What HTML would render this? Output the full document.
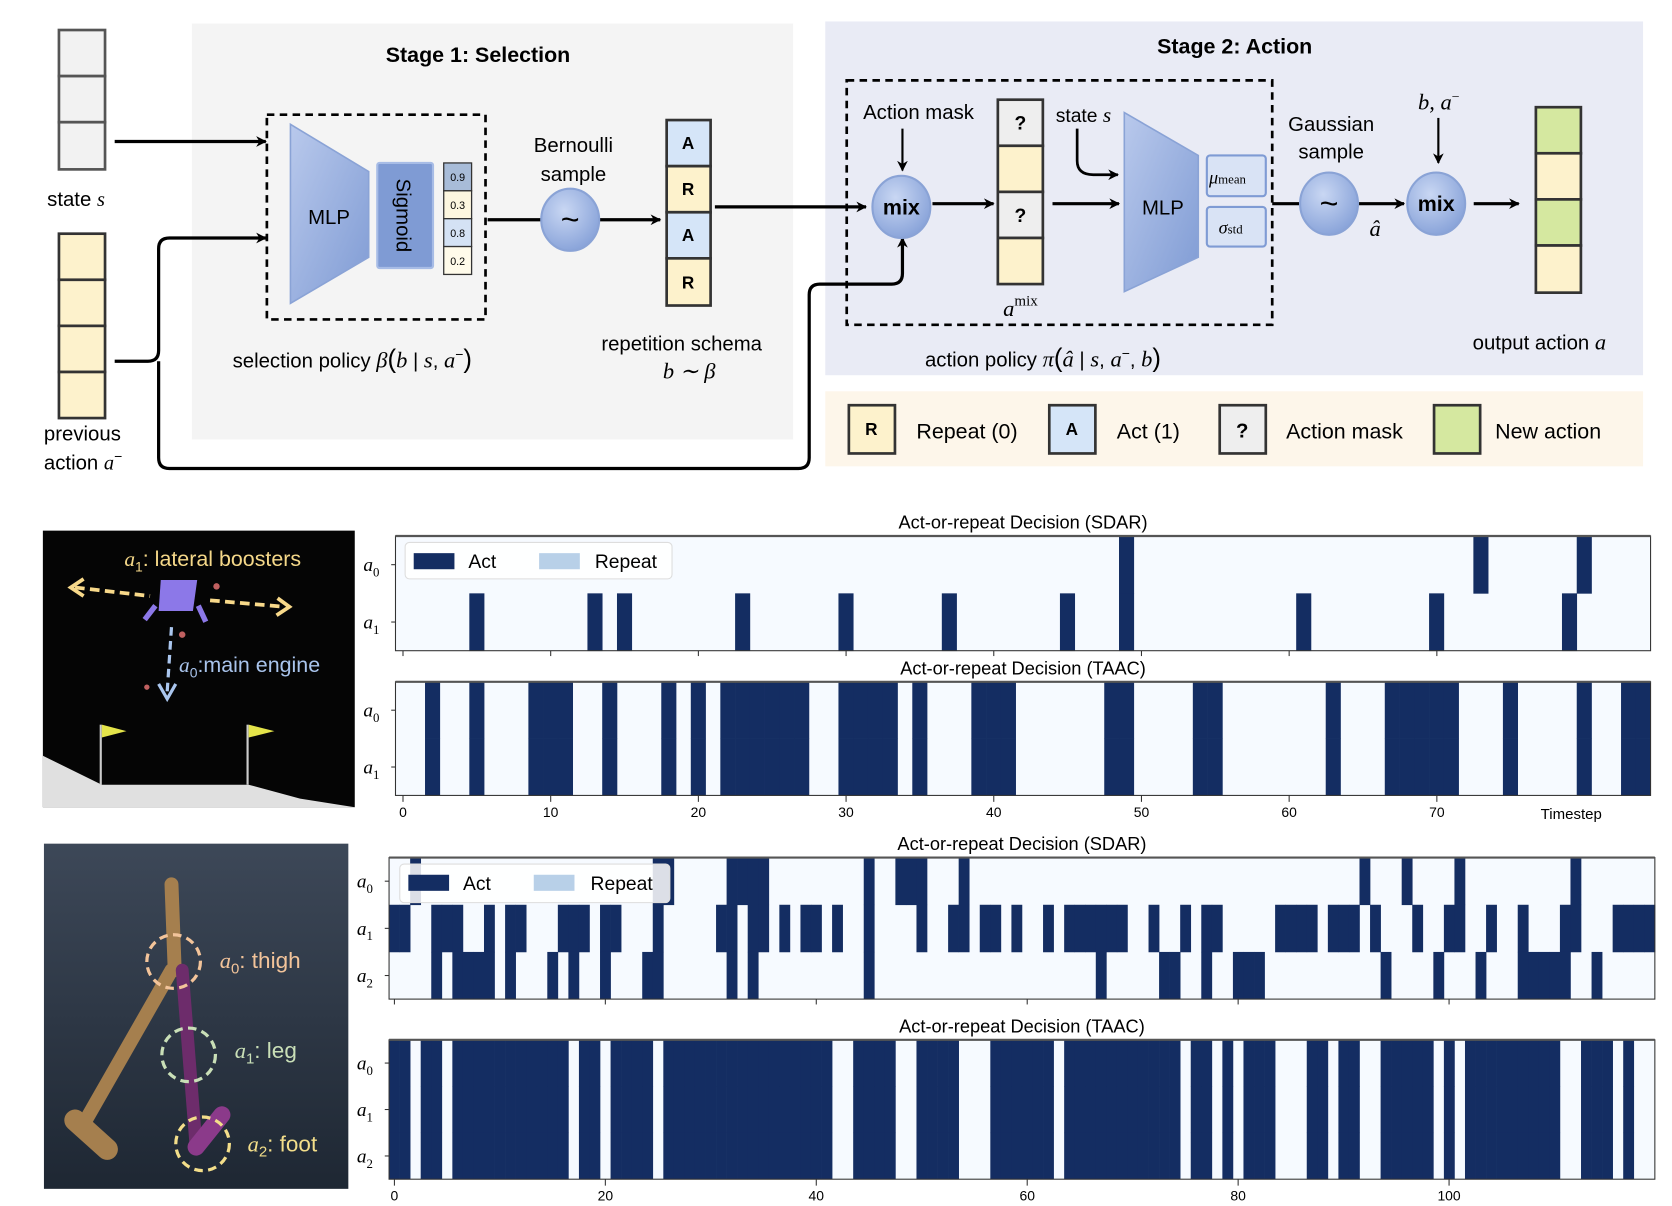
<!DOCTYPE html>
<html><head><meta charset="utf-8"><style>
html,body{margin:0;padding:0;background:#fff;}
svg{display:block;}
text{font-family:"Liberation Sans",sans-serif;}
.m{font-family:"Liberation Serif",serif;font-style:italic;}
</style></head><body>
<svg id="s" width="1672" height="1206" viewBox="0 0 1560 1125" preserveAspectRatio="none" xmlns="http://www.w3.org/2000/svg">
<defs>
<linearGradient id="mlp" x1="0" y1="0" x2="1" y2="1"><stop offset="0" stop-color="#b9c9ec"/><stop offset="1" stop-color="#7f9bd4"/></linearGradient>
<radialGradient id="cg" cx="0.4" cy="0.35" r="0.7"><stop offset="0" stop-color="#c9d7f3"/><stop offset="1" stop-color="#86a1d8"/></radialGradient>
<linearGradient id="hop" x1="0" y1="0" x2="0" y2="1"><stop offset="0" stop-color="#3d4858"/><stop offset="1" stop-color="#1e2733"/></linearGradient>
<marker id="ah" markerWidth="10" markerHeight="10" refX="9" refY="5" orient="auto" markerUnits="userSpaceOnUse"><path d="M0,0 L10,5 L0,10 L3,5 z" fill="#000"/></marker>
</defs>

<!-- Stage boxes -->
<rect x="179" y="22" width="561" height="388" fill="#f4f4f4"/>
<rect x="770" y="20" width="763" height="330" fill="#e9ebf5"/>
<rect x="770" y="365" width="763" height="70" fill="#fdf6ea"/>
<text x="446" y="58" font-size="20" font-weight="bold" text-anchor="middle">Stage 1: Selection</text>
<text x="1152" y="50" font-size="20" font-weight="bold" text-anchor="middle">Stage 2: Action</text>

<!-- state vector -->
<g stroke="#555" stroke-width="2.5" fill="#f2f2f2">
<rect x="55" y="28" width="43" height="43"/><rect x="55" y="71" width="43" height="43"/><rect x="55" y="114" width="43" height="44"/>
</g>
<text x="44" y="192" font-size="19">state <tspan class="m">s</tspan></text>
<g stroke="#333" stroke-width="2.5" fill="#fdf2cc">
<rect x="55" y="218" width="43" height="43"/><rect x="55" y="261" width="43" height="43"/><rect x="55" y="304" width="43" height="43"/><rect x="55" y="347" width="43" height="43"/>
</g>
<text x="41" y="411" font-size="19">previous</text>
<text x="41" y="438" font-size="19">action <tspan class="m">a</tspan><tspan font-size="13" dy="-8">−</tspan></text>

<!-- dashed box 1 -->
<rect x="249" y="107" width="204" height="191" fill="none" stroke="#000" stroke-width="2.5" stroke-dasharray="7,5"/>
<polygon points="271,116 344,160 344,240 271,283" fill="url(#mlp)" stroke="#8aa3d6" stroke-width="1.5"/>
<text x="307" y="209" font-size="19" text-anchor="middle">MLP</text>
<rect x="352" y="152" width="52" height="98" rx="2" fill="#7f9bd4" stroke="#a7bce6" stroke-width="2"/>
<text transform="translate(370,201) rotate(90)" font-size="19" text-anchor="middle">Sigmoid</text>
<g stroke="#333" stroke-width="1.2" font-size="10">
<rect x="414" y="152" width="26" height="26" fill="#a8bcd8"/><rect x="414" y="178" width="26" height="26" fill="#fdf7e0"/><rect x="414" y="204" width="26" height="26" fill="#d4e2f4"/><rect x="414" y="230" width="26" height="26" fill="#fffbea"/>
</g>
<g font-size="10" text-anchor="middle"><text x="427" y="169">0.9</text><text x="427" y="195">0.3</text><text x="427" y="221">0.8</text><text x="427" y="247">0.2</text></g>

<!-- arrows stage1 -->
<g stroke="#000" stroke-width="3" fill="none">
<line x1="107" y1="132" x2="248" y2="132" marker-end="url(#ah)"/>
<path d="M107,337 H138 Q148,337 148,327 V232 Q148,222 158,222 H248" marker-end="url(#ah)"/>
<path d="M148,337 V427 Q148,437 158,437 H745 Q755,437 755,427 V275 Q755,265 765,265 H832 Q842,265 842,255 V222" marker-end="url(#ah)"/>
<line x1="455" y1="205" x2="505" y2="205"/>
<line x1="559" y1="205" x2="616" y2="205" marker-end="url(#ah)"/>
<line x1="667" y1="193" x2="808" y2="193" marker-end="url(#ah)"/>
</g>
<ellipse cx="532" cy="205" rx="27" ry="29" fill="url(#cg)" stroke="#8aa3d6" stroke-width="2"/>
<text x="532" y="215" font-size="30" text-anchor="middle">~</text>
<text x="535" y="142" font-size="19" text-anchor="middle">Bernoulli</text>
<text x="535" y="169" font-size="19" text-anchor="middle">sample</text>

<!-- schema -->
<g stroke="#333" stroke-width="2.5">
<rect x="622" y="112" width="41" height="43" fill="#d5e5f8"/><rect x="622" y="155" width="41" height="43" fill="#fdf2cc"/><rect x="622" y="198" width="41" height="43" fill="#d5e5f8"/><rect x="622" y="241" width="41" height="44" fill="#fdf2cc"/>
</g>
<g font-size="16" font-weight="bold" text-anchor="middle"><text x="642" y="139">A</text><text x="642" y="182">R</text><text x="642" y="225">A</text><text x="642" y="269">R</text></g>
<text x="217" y="343" font-size="19">selection policy <tspan class="m" font-size="21">β</tspan><tspan font-size="24">(</tspan><tspan class="m" font-size="21">b</tspan> | <tspan class="m" font-size="21">s</tspan>, <tspan class="m" font-size="21">a</tspan><tspan font-size="13" dy="-8">−</tspan><tspan font-size="24" dy="8">)</tspan></text>
<text x="636" y="327" font-size="19" text-anchor="middle">repetition schema</text>
<text x="643" y="353" font-size="21" text-anchor="middle" class="m">b ∼ β</text>

<!-- Stage 2 -->
<rect x="790" y="75" width="397" height="228" fill="none" stroke="#000" stroke-width="2.5" stroke-dasharray="7,5"/>
<text x="857" y="111" font-size="19" text-anchor="middle">Action mask</text>
<g stroke="#000" stroke-width="2" fill="none">
<line x1="842" y1="120" x2="842" y2="159" marker-end="url(#ah)"/>
<path d="M1005,120 V150 Q1005,163 1020,163 H1043" marker-end="url(#ah)" stroke-width="2.5"/>
<line x1="1342" y1="110" x2="1342" y2="152" marker-end="url(#ah)"/>
</g>
<g stroke="#000" stroke-width="3" fill="none">
<line x1="870" y1="190" x2="927" y2="190" marker-end="url(#ah)"/>
<line x1="982" y1="190" x2="1044" y2="190" marker-end="url(#ah)"/>
<line x1="1187" y1="190" x2="1212" y2="190"/>
<line x1="1268" y1="190" x2="1310" y2="190" marker-end="url(#ah)"/>
<line x1="1375" y1="190" x2="1417" y2="190" marker-end="url(#ah)"/>
</g>
<ellipse cx="841" cy="193" rx="27" ry="29" fill="url(#cg)" stroke="#8aa3d6" stroke-width="2"/>
<text x="841" y="200" font-size="20" font-weight="bold" text-anchor="middle">mix</text>
<g stroke="#333" stroke-width="2.5">
<rect x="931" y="93" width="42" height="43" fill="#eeeeee"/><rect x="931" y="136" width="42" height="43" fill="#fdf2cc"/><rect x="931" y="179" width="42" height="43" fill="#eeeeee"/><rect x="931" y="222" width="42" height="43" fill="#fdf2cc"/>
</g>
<g font-size="18" font-weight="bold" text-anchor="middle"><text x="952" y="121">?</text><text x="952" y="207">?</text></g>
<text x="936" y="295" font-size="21" class="m">a<tspan font-size="14" dy="-10" font-style="normal">mix</tspan></text>
<text x="985" y="114" font-size="18">state <tspan class="m" font-size="20">s</tspan></text>
<polygon points="1049,105 1118,145 1118,240 1049,272" fill="url(#mlp)" stroke="#8aa3d6" stroke-width="1.5"/>
<text x="1085" y="200" font-size="19" text-anchor="middle">MLP</text>
<rect x="1126" y="145" width="55" height="38" rx="3" fill="#d9e3f5" stroke="#7f9bd4" stroke-width="2"/>
<rect x="1126" y="193" width="55" height="37" rx="3" fill="#d9e3f5" stroke="#7f9bd4" stroke-width="2"/>
<text x="1128" y="171" font-size="17" class="m">μ<tspan font-size="12" font-style="normal">mean</tspan></text>
<text x="1137" y="218" font-size="17" class="m">σ<tspan font-size="12" font-style="normal">std</tspan></text>
<ellipse cx="1240" cy="190" rx="27" ry="29" fill="url(#cg)" stroke="#8aa3d6" stroke-width="2"/>
<text x="1240" y="200" font-size="30" text-anchor="middle">~</text>
<text x="1283" y="220" font-size="21" class="m" text-anchor="middle">â</text>
<ellipse cx="1340" cy="190" rx="27" ry="29" fill="url(#cg)" stroke="#8aa3d6" stroke-width="2"/>
<text x="1340" y="197" font-size="20" font-weight="bold" text-anchor="middle">mix</text>
<text x="1242" y="122" font-size="19" text-anchor="middle">Gaussian</text>
<text x="1242" y="148" font-size="19" text-anchor="middle">sample</text>
<text x="1323" y="102" font-size="21" class="m">b, a<tspan font-size="13" dy="-8" font-style="normal">−</tspan></text>
<g stroke="#333" stroke-width="2.5">
<rect x="1433" y="100" width="42" height="43" fill="#d5e8a0"/><rect x="1433" y="143" width="42" height="43" fill="#fdf2cc"/><rect x="1433" y="186" width="42" height="43" fill="#d5e8a0"/><rect x="1433" y="229" width="42" height="44" fill="#fdf2cc"/>
</g>
<text x="1374" y="326" font-size="19">output action <tspan class="m" font-size="21">a</tspan></text>
<text x="863" y="342" font-size="19">action policy <tspan class="m" font-size="21">π</tspan><tspan font-size="24">(</tspan><tspan class="m" font-size="21">â</tspan> | <tspan class="m" font-size="21">s</tspan>, <tspan class="m" font-size="21">a</tspan><tspan font-size="13" dy="-8">−</tspan><tspan dy="8">, </tspan><tspan class="m" font-size="21">b</tspan><tspan font-size="24">)</tspan></text>

<!-- legend -->
<g stroke="#333" stroke-width="2.5">
<rect x="792" y="378" width="43" height="45" fill="#fdf2cc"/><rect x="979" y="378" width="43" height="45" fill="#d5e5f8"/><rect x="1138" y="378" width="43" height="45" fill="#eeeeee"/><rect x="1338" y="378" width="43" height="45" fill="#d5e8a0"/>
</g>
<g font-size="16" font-weight="bold" text-anchor="middle"><text x="813" y="406">R</text><text x="1000" y="406">A</text><text x="1159" y="408" font-size="19">?</text></g>
<g font-size="20"><text x="855" y="409">Repeat (0)</text><text x="1042" y="409">Act (1)</text><text x="1200" y="409">Action mask</text><text x="1395" y="409">New action</text></g>

<!-- Lunar image -->
<rect x="40" y="495" width="291" height="258" fill="#050505"/>
<polygon points="40,705 95,732 232,732 280,745 331,753 40,753" fill="#e0e0e0"/>
<line x1="94" y1="676" x2="94" y2="732" stroke="#ccc" stroke-width="2"/>
<polygon points="95,676 118,682 95,688" fill="#e4e44a"/>
<line x1="231" y1="676" x2="231" y2="732" stroke="#ccc" stroke-width="2"/>
<polygon points="232,676 256,682 232,688" fill="#e4e44a"/>
<polygon points="150,541 184,541 180,570 148,570" fill="#8c78e8"/>
<line x1="145" y1="565" x2="135" y2="578" stroke="#8c78e8" stroke-width="5"/>
<line x1="185" y1="565" x2="192" y2="580" stroke="#8c78e8" stroke-width="5"/>
<circle cx="202" cy="547" r="3" fill="#c06060"/><circle cx="170" cy="592" r="3" fill="#c06060"/><circle cx="137" cy="641" r="2.5" fill="#c06060"/>
<g stroke="#f8d98a" stroke-width="3.5" stroke-dasharray="9,5" fill="none">
<line x1="70" y1="548" x2="140" y2="556"/><line x1="196" y1="560" x2="265" y2="566"/>
</g>
<path d="M78,540 L66,548 L78,556" stroke="#f8d98a" stroke-width="3.5" fill="none"/>
<path d="M259,558 L270,566 L258,574" stroke="#f8d98a" stroke-width="3.5" fill="none"/>
<line x1="160" y1="585" x2="156" y2="645" stroke="#aac6ee" stroke-width="3" stroke-dasharray="8,5"/>
<path d="M148,638 L156,652 L164,638" stroke="#aac6ee" stroke-width="3" fill="none"/>
<text x="116" y="528" font-size="20" fill="#f5d889"><tspan class="m">a</tspan><tspan font-size="13" dy="5">1</tspan><tspan dy="-5">: lateral boosters</tspan></text>
<text x="167" y="627" font-size="20" fill="#a9c4ec"><tspan class="m">a</tspan><tspan font-size="13" dy="5">0</tspan><tspan dy="-5">:main engine</tspan></text>

<!-- Hopper image -->
<rect x="41" y="787" width="284" height="322" fill="url(#hop)"/>
<g stroke-linecap="round" fill="none">
<line x1="160" y1="825" x2="163" y2="905" stroke="#a57f4e" stroke-width="13"/>
<line x1="160" y1="905" x2="80" y2="1045" stroke="#a57f4e" stroke-width="13"/>
<line x1="70" y1="1045" x2="100" y2="1072" stroke="#a57f4e" stroke-width="20"/>
<line x1="170" y1="905" x2="183" y2="1070" stroke="#6d2c6b" stroke-width="12"/>
<line x1="183" y1="1070" x2="207" y2="1040" stroke="#8b3a8a" stroke-width="16"/>
</g>
<g fill="none" stroke-width="3" stroke-dasharray="8,5">
<circle cx="162" cy="897" r="25" stroke="#f3c49a"/>
<circle cx="176" cy="984" r="25" stroke="#c9dfb7"/>
<circle cx="189" cy="1067" r="25" stroke="#f3de8a"/>
</g>
<text x="205" y="903" font-size="21" fill="#f3c49a"><tspan class="m">a</tspan><tspan font-size="14" dy="5">0</tspan><tspan dy="-5">: thigh</tspan></text>
<text x="219" y="987" font-size="21" fill="#c9dfb7"><tspan class="m">a</tspan><tspan font-size="14" dy="5">1</tspan><tspan dy="-5">: leg</tspan></text>
<text x="231" y="1074" font-size="21" fill="#f3de8a"><tspan class="m">a</tspan><tspan font-size="14" dy="5">2</tspan><tspan dy="-5">: foot</tspan></text>

<g id="charts"></g>
</svg>
<script>
(function(){
var NS="http://www.w3.org/2000/svg",g=document.getElementById("charts");
function el(t,a,txt){var e=document.createElementNS(NS,t);for(var k in a)e.setAttribute(k,a[k]);if(txt!=null)e.textContent=txt;g.appendChild(e);return e;}
function rng(a,b){var r=[];for(var i=a;i<=b;i++)r.push(i);return r;}
var D="#142d62",L="#f6faff";
function chart(x0,x1,y0,y1,n,rows,title,labels){
  el("rect",{x:x0,y:y0,width:x1-x0,height:y1-y0,fill:L});
  var cw=(x1-x0)/n,rh=(y1-y0)/rows.length;
  rows.forEach(function(r,ri){r.forEach(function(c){el("rect",{x:(x0+c*cw).toFixed(2),y:(y0+ri*rh).toFixed(2),width:(cw+0.3).toFixed(2),height:(rh+0.3).toFixed(2),fill:D});});});
  el("rect",{x:x0,y:y0,width:x1-x0,height:y1-y0,fill:"none",stroke:"#333","stroke-width":1});
  el("line",{x1:x0,y1:y0,x2:x1,y2:y0,stroke:"#555","stroke-width":2});
  el("text",{x:(x0+x1)/2,y:y0-7,"font-size":17,"text-anchor":"middle"},title);
  rows.forEach(function(r,ri){var cy=y0+(ri+0.5)*rh;
    var t=el("text",{x:x0-30,y:cy+6,"font-size":18,"class":"m"});t.innerHTML='a<tspan font-size="12" dy="5" font-style="normal">'+ri+'</tspan>';
    el("line",{x1:x0-4,y1:cy,x2:x0,y2:cy,stroke:"#333"});});
}
function legend(x,y,w,h,px,tx,rx,rtx){
  el("rect",{x:x,y:y,width:w,height:h,rx:4,fill:"#fff","fill-opacity":0.85,stroke:"#ddd"});
  el("rect",{x:px,y:y+10,width:38,height:15,fill:D});
  el("text",{x:tx,y:y+24,"font-size":18},"Act");
  el("rect",{x:rx,y:y+10,width:38,height:15,fill:"#b8d0e8"});
  el("text",{x:rtx,y:y+24,"font-size":18},"Repeat");
}
// Lunar SDAR
chart(369,1540,500,607,85,[[49,73,80],[5,13,15,23,30,37,45,49,61,70,79]],"Act-or-repeat Decision (SDAR)");
legend(378,506,249,34,386,437,503,555);
var lt=[2,5,9,10,11,14,18,20].concat(rng(22,27),rng(30,33),[35],rng(39,41),[48,49,54,55,63],rng(67,71),[75,80,83,84]);
chart(369,1540,636,742,85,[lt,lt],"Act-or-repeat Decision (TAAC)");
for(var k=0;k<=7;k++){var x=376+137.8*k;el("line",{x1:x,y1:742,x2:x,y2:748,stroke:"#333"});el("line",{x1:x,y1:607,x2:x,y2:612,stroke:"#333"});el("text",{x:x,y:762,"font-size":13,"text-anchor":"middle"},String(k*10));}
el("text",{x:1466,y:764,"font-size":14,"text-anchor":"middle"},"Timestep");
// Hopper SDAR
var a0=[2,25,26,32,33,34,35,45,48,49,50,54,92,96,101,112];
var a1=[0,1,4,5,6,9,11,12,16,17,18,20,21,25,31,32,34,35,37,39,40,42,45,50,53,54,56,57,59,62].concat(rng(64,69),[72,75,77,78],rng(84,87),rng(89,91),[93,97,100,101,104,107,111,112],rng(116,119));
var a2=[4,6,7,8,9,11,15,17,20,24,25,32,34,45,67,73,74,77,80,81,82,94,99,103].concat(rng(107,111),[114]);
chart(363,1544,800,932,120,[a0,a1,a2],"Act-or-repeat Decision (SDAR)");
legend(373,806,252,36,381,432,498,551);
var wh=[2,5,17,20,25,42,43,48,49,54,55,56,63,75,78,80,84,85,86,89,92,93,99,101,111,112,116,118,119],ht=[];
for(var i=0;i<120;i++)if(wh.indexOf(i)<0)ht.push(i);
chart(363,1544,970,1100,120,[ht,ht,ht],"Act-or-repeat Decision (TAAC)");
for(var k=0;k<=5;k++){var x=368+196.8*k;el("line",{x1:x,y1:1100,x2:x,y2:1106,stroke:"#333"});el("line",{x1:x,y1:932,x2:x,y2:937,stroke:"#333"});el("text",{x:x,y:1120,"font-size":13,"text-anchor":"middle"},String(k*20));}
})();
</script>
</body></html>
